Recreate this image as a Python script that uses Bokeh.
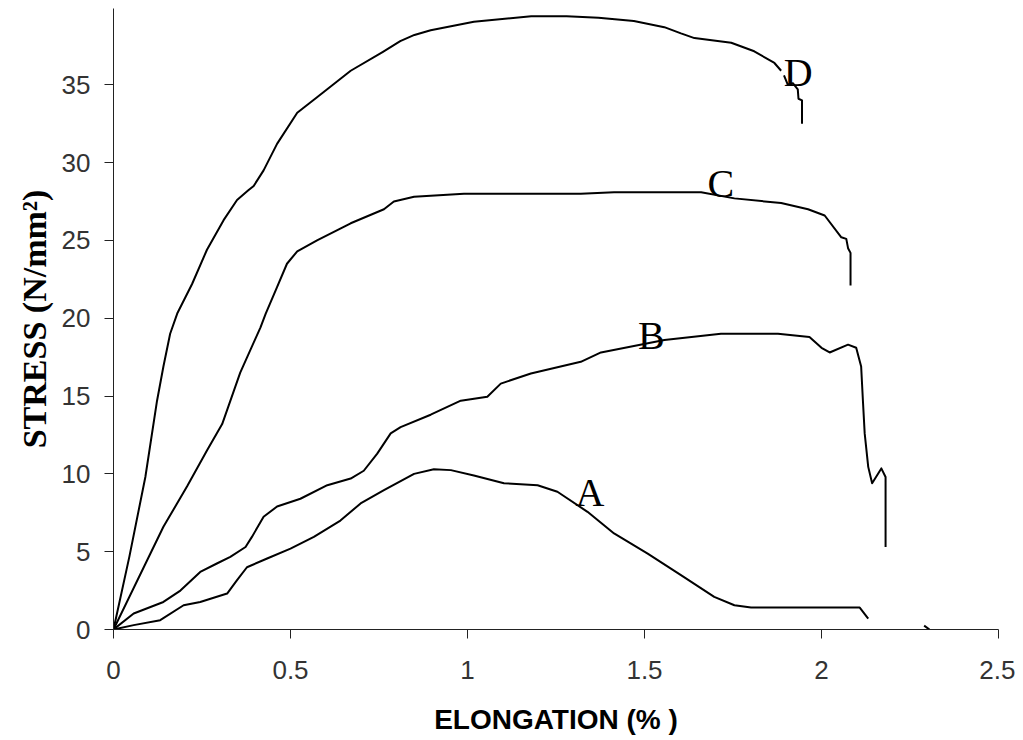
from bokeh.plotting import figure
from bokeh.models import FixedTicker, Range1d
from bokeh.core.properties import value
from bokeh.embed import file_html
from bokeh.resources import INLINE

# ---- data ----
a_x = [0, 0.057, 0.132, 0.198, 0.245, 0.321, 0.349, 0.377, 0.434, 0.5, 0.566, 0.641, 0.698, 0.764,
       0.849, 0.905, 0.953, 1.018, 1.103, 1.198, 1.254, 1.339, 1.414, 1.509, 1.603, 1.697, 1.754,
       1.801, 2.108, 2.132]
a_y = [0, 0.28, 0.6, 1.56, 1.77, 2.31, 3.17, 4.0, 4.56, 5.2, 5.95, 7.0, 8.1, 8.95,
       10.0, 10.3, 10.24, 9.9, 9.4, 9.27, 8.85, 7.56, 6.17, 4.88, 3.49, 2.1, 1.56,
       1.41, 1.41, 0.7]
a_tail_x = [2.29, 2.305]
a_tail_y = [0.25, 0.0]

b_x = [0, 0.057, 0.141, 0.189, 0.245, 0.292, 0.33, 0.373, 0.391, 0.424, 0.462, 0.528, 0.604, 0.67,
       0.707, 0.745, 0.783, 0.811, 0.896, 0.981, 1.056, 1.094, 1.179, 1.32, 1.377, 1.556, 1.716,
       1.877, 1.966, 2.0, 2.023, 2.075, 2.098, 2.112, 2.117, 2.122, 2.132, 2.143, 2.169, 2.181, 2.181]
b_y = [0, 1.03, 1.77, 2.5, 3.7, 4.24, 4.67, 5.3, 5.95, 7.24, 7.9, 8.4, 9.27, 9.7,
       10.2, 11.3, 12.6, 13.0, 13.8, 14.7, 14.95, 15.8, 16.45, 17.2, 17.8, 18.6, 19.0,
       19.0, 18.8, 18.1, 17.8, 18.3, 18.1, 16.9, 14.7, 12.6, 10.45, 9.4, 10.35, 9.8, 5.3]

c_x = [0, 0.141, 0.208, 0.264, 0.307, 0.358, 0.415, 0.43, 0.462, 0.49, 0.519, 0.575, 0.67,
       0.764, 0.792, 0.849, 0.99, 1.18, 1.32, 1.414, 1.66, 1.754, 1.886, 1.962, 2.009, 2.056,
       2.07, 2.075, 2.082, 2.082]
c_y = [0, 6.6, 9.2, 11.5, 13.2, 16.5, 19.4, 20.3, 22.0, 23.5, 24.3, 25.0, 26.1,
       27.0, 27.5, 27.8, 28.0, 28.0, 28.0, 28.1, 28.1, 27.7, 27.4, 27.0, 26.6, 25.2,
       25.1, 24.5, 24.2, 22.1]

d_x = [0, 0.045, 0.09, 0.123, 0.141, 0.16, 0.18, 0.222, 0.264, 0.311, 0.349, 0.38, 0.396, 0.424,
       0.462, 0.519, 0.575, 0.67, 0.76, 0.81, 0.85, 0.896, 1.018, 1.18, 1.28, 1.37, 1.47, 1.556,
       1.603, 1.641, 1.745, 1.81, 1.867, 1.886]
d_y = [0, 4.7, 9.8, 14.7, 16.9, 19.0, 20.3, 22.2, 24.4, 26.3, 27.6, 28.2, 28.5, 29.5,
       31.2, 33.2, 34.2, 35.9, 37.1, 37.8, 38.2, 38.5, 39.05, 39.4, 39.4, 39.3, 39.1, 38.7,
       38.3, 38.0, 37.7, 37.15, 36.4, 35.9]
d_tail_x = [1.894, 1.905, 1.919, 1.933, 1.935, 1.945, 1.945]
d_tail_y = [35.6, 35.0, 35.1, 34.7, 34.1, 34.0, 32.5]

curve_names = ["A", "B", "C", "D"]
label_x = [1.346, 1.519, 1.716, 1.934]
label_y = [8.82, 18.91, 28.68, 35.82]

x_ticks = [0, 0.5, 1, 1.5, 2, 2.5]
x_tick_labels = ["0", "0.5", "1", "1.5", "2", "2.5"]
y_ticks = [0, 5, 10, 15, 20, 25, 30, 35]
y_tick_labels = ["0", "5", "10", "15", "20", "25", "30", "35"]

x_title = "ELONGATION (% )"
y_title = "STRESS (N/mm²)"

# ---- figure ----
p = figure(width=1015, height=737, output_backend="svg", toolbar_location=None,
           x_range=Range1d(0, 2.5), y_range=Range1d(0, 39.9),
           min_border_left=113, min_border_right=17, min_border_top=8, min_border_bottom=108)
p.outline_line_color = None
p.grid.visible = False
p.background_fill_color = "white"

for xs, ys in [(a_x, a_y), (a_tail_x, a_tail_y), (b_x, b_y), (c_x, c_y), (d_x, d_y), (d_tail_x, d_tail_y)]:
    p.line(xs, ys, line_color="black", line_width=2, line_join="round")

p.text(x=label_x, y=label_y, text=curve_names, text_font=value("Liberation Serif"),
       text_font_size="40px", text_align="center", text_baseline="alphabetic", text_color="black")

for ax, ticks, labels in [(p.xaxis[0], x_ticks, x_tick_labels), (p.yaxis[0], y_ticks, y_tick_labels)]:
    ax.ticker = FixedTicker(ticks=ticks)
    ax.major_label_overrides = {t: l for t, l in zip(ticks, labels)}
    ax.minor_tick_line_color = None
    ax.major_tick_in = 0
    ax.major_tick_out = 9
    ax.axis_line_color = "#222222"
    ax.major_tick_line_color = "#222222"
    ax.major_label_text_font = "Liberation Sans"
    ax.major_label_text_font_size = "26px"
    ax.major_label_text_color = "#333333"

p.xaxis.axis_label = x_title
p.xaxis.axis_label_text_font = "Liberation Sans"
p.xaxis.axis_label_text_font_style = "bold"
p.xaxis.axis_label_text_font_size = "28px"
p.xaxis.axis_label_text_color = "black"
p.xaxis.major_label_standoff = 22
p.xaxis.axis_label_standoff = 22

p.yaxis.axis_label = y_title
p.yaxis.axis_label_text_font = "Liberation Serif"
p.yaxis.axis_label_text_font_style = "bold"
p.yaxis.axis_label_text_font_size = "34px"
p.yaxis.axis_label_text_color = "black"
p.yaxis.major_label_standoff = 14
p.yaxis.axis_label_standoff = 6

open("out.html", "w").write(file_html(p, INLINE))
